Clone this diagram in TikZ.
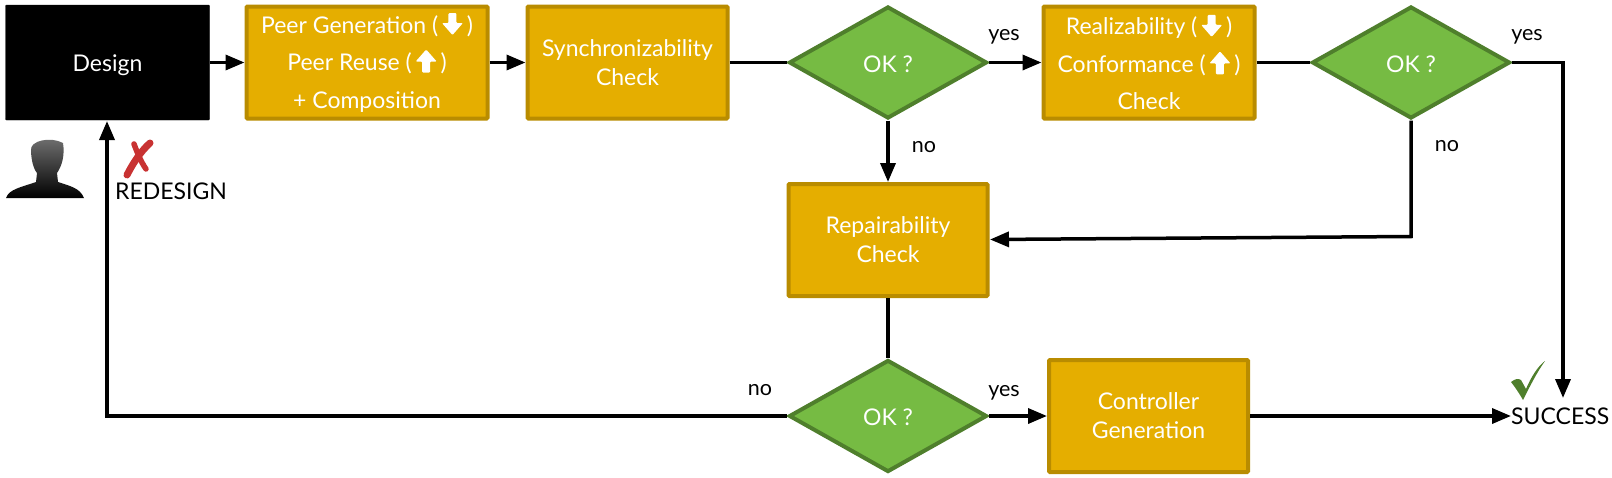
\documentclass[tikz,border=0pt]{standalone}
\usepackage{fontspec}
\setmainfont{Lato}
\usepackage{xcolor}
\usetikzlibrary{positioning, arrows.meta, shapes.geometric, calc}
\definecolor{boxfill}{HTML}{E5AE00}
\definecolor{boxline}{HTML}{B98C00}
\definecolor{okfill}{HTML}{76BB43}
\definecolor{okline}{HTML}{4F7F2C}
\definecolor{failred}{HTML}{C83232}
\newcommand{\downglyph}{\,\tikz[baseline=-1pt,x=1pt,y=1pt]\fill[white] (-4,19)--(4,19)--(4,9)--(10.5,9)--(0,-3)--(-10.5,9)--(-4,9)--cycle;\,}
\newcommand{\upglyph}{\,\tikz[baseline=-1pt,x=1pt,y=1pt]\fill[white] (-4,-3)--(4,-3)--(4,8)--(10.5,8)--(0,20)--(-10.5,8)--(-4,8)--cycle;\,}
\begin{document}
\begin{tikzpicture}[
    x=1pt, y=-1pt,
    stepbox/.style={draw=boxline, line width=4pt, fill=boxfill, rounded corners=1pt, inner sep=0pt, minimum width=#1, minimum height=112pt, align=center, text=white, font=\fontsize{23}{29}\selectfont},
    tribox/.style={stepbox=#1, font=\fontsize{23}{37.5}\selectfont},
    okdiamond/.style={diamond, aspect=1.77, draw=okline, line width=4pt, fill=okfill, inner sep=0pt, minimum width=198pt, minimum height=112pt, text=white, text height=19pt, text depth=0pt, font=\fontsize{23}{26}\selectfont},
    arr/.style={-{Triangle[length=19pt, width=15pt]}, line width=3.5pt},
    link/.style={line width=3.5pt},
    lbl/.style={text=black, font=\fontsize{21.5}{25}\selectfont, inner sep=0pt},
    endlbl/.style={text=black, font=\fontsize{23}{26}\selectfont, inner sep=0pt}
]
\useasboundingbox (0,0) rectangle (1612,477);
% Top row
\node[draw=black, fill=black, rounded corners=1pt, minimum width=204pt, minimum height=115pt, inner sep=0pt, text=white, text height=21pt, text depth=4pt, font=\fontsize{23}{26}\selectfont] (design) at (107.5, 62.5) {Design};
\node[tribox=241pt] (peer) at (367, 62.5) {Peer Generation (\downglyph)\\Peer Reuse (\upglyph)\\+ Composition};
\node[stepbox=200pt] (sync) at (627.5, 62.5) {Synchronizability\\Check};
\node[okdiamond] (ok1) at (888, 62.5) {OK ?};
\node[tribox=211pt] (real) at (1149, 62.5) {Realizability (\downglyph)\\Conformance (\upglyph)\\Check};
\node[okdiamond] (ok2) at (1411, 62.5) {OK ?};
% Middle and bottom row
\node[stepbox=199pt] (repair) at (888, 240) {Repairability\\Check};
\node[okdiamond] (ok3) at (888, 416) {OK ?};
\node[stepbox=199pt] (ctrl) at (1148.5, 416) {Controller\\Generation};
% End labels
\node[endlbl, anchor=west] (success) at (1511, 416) {SUCCESS};
\node[endlbl, anchor=west] (redesign) at (115, 191) {REDESIGN};
% Free corners
\coordinate (topright) at (1563, 62.5);
\coordinate (inright) at (1411, 236.5);
\coordinate (intoend) at (1563, 398);
\coordinate (leftcorner) at (107, 416);
\coordinate (intodesign) at (107, 121);
\coordinate (intorepair) at (990, 239.5);
% --- Connectors ---
\draw[arr] (design.east) -- (peer.west);
\draw[arr] (peer.east) -- (sync.west);
\draw[link] (sync.east) -- (ok1.west);
\draw[arr] (ok1.east) -- (real.west);
\draw[link] (real.east) -- (ok2.west);
\draw[arr] (ok1.south) -- (repair.north);
\draw[arr] (ok2.south) -- (inright) -- (intorepair);
\draw[link] (repair.south) -- (ok3.north);
\draw[arr] (ok3.east) -- (ctrl.west);
\draw[arr] (ctrl.east) -- (success.west);
\draw[arr] (ok2.east) -- (topright) -- (intoend);
\draw[arr] (ok3.west) -- (leftcorner) -- (intodesign);
% --- Branch labels ---
\node[lbl] (yes1) at (1004, 37) {yes};
\node[lbl] (no1) at (924, 147) {no};
\node[lbl] (yes2) at (1527, 37) {yes};
\node[lbl] (no2) at (1447, 146) {no};
\node[lbl] (no3) at (760, 390) {no};
\node[lbl] (yes3) at (1004, 393) {yes};
% --- Person ---
\shade[top color=gray!90!black, bottom color=black] (6,198) .. controls (9,189) and (22,187) .. (36,182) -- (37,173) .. controls (32,167) and (31,155) .. (31,150) .. controls (30,141) and (50,136) .. (63,143) .. controls (65,155) and (62,166) .. (57,173) -- (58,182) .. controls (70,186) and (80,188) .. (84,198) -- cycle;
% --- Marks ---
\draw[failred, line width=7pt, line cap=round] (150,143) .. controls (140,152) and (132,165) .. (127,175);
\draw[failred, line width=5.5pt, line cap=round] (134,144) .. controls (137,152) and (141,162) .. (146,169);
\fill[okline] (1511,382) .. controls (1515,379) and (1518,378) .. (1521,380) -- (1526,389) .. controls (1531,377) and (1538,366) .. (1545,361) .. controls (1537,372) and (1529,388) .. (1523,400) .. controls (1519,393) and (1515,387) .. (1511,382) -- cycle;
\end{tikzpicture}
\end{document}
